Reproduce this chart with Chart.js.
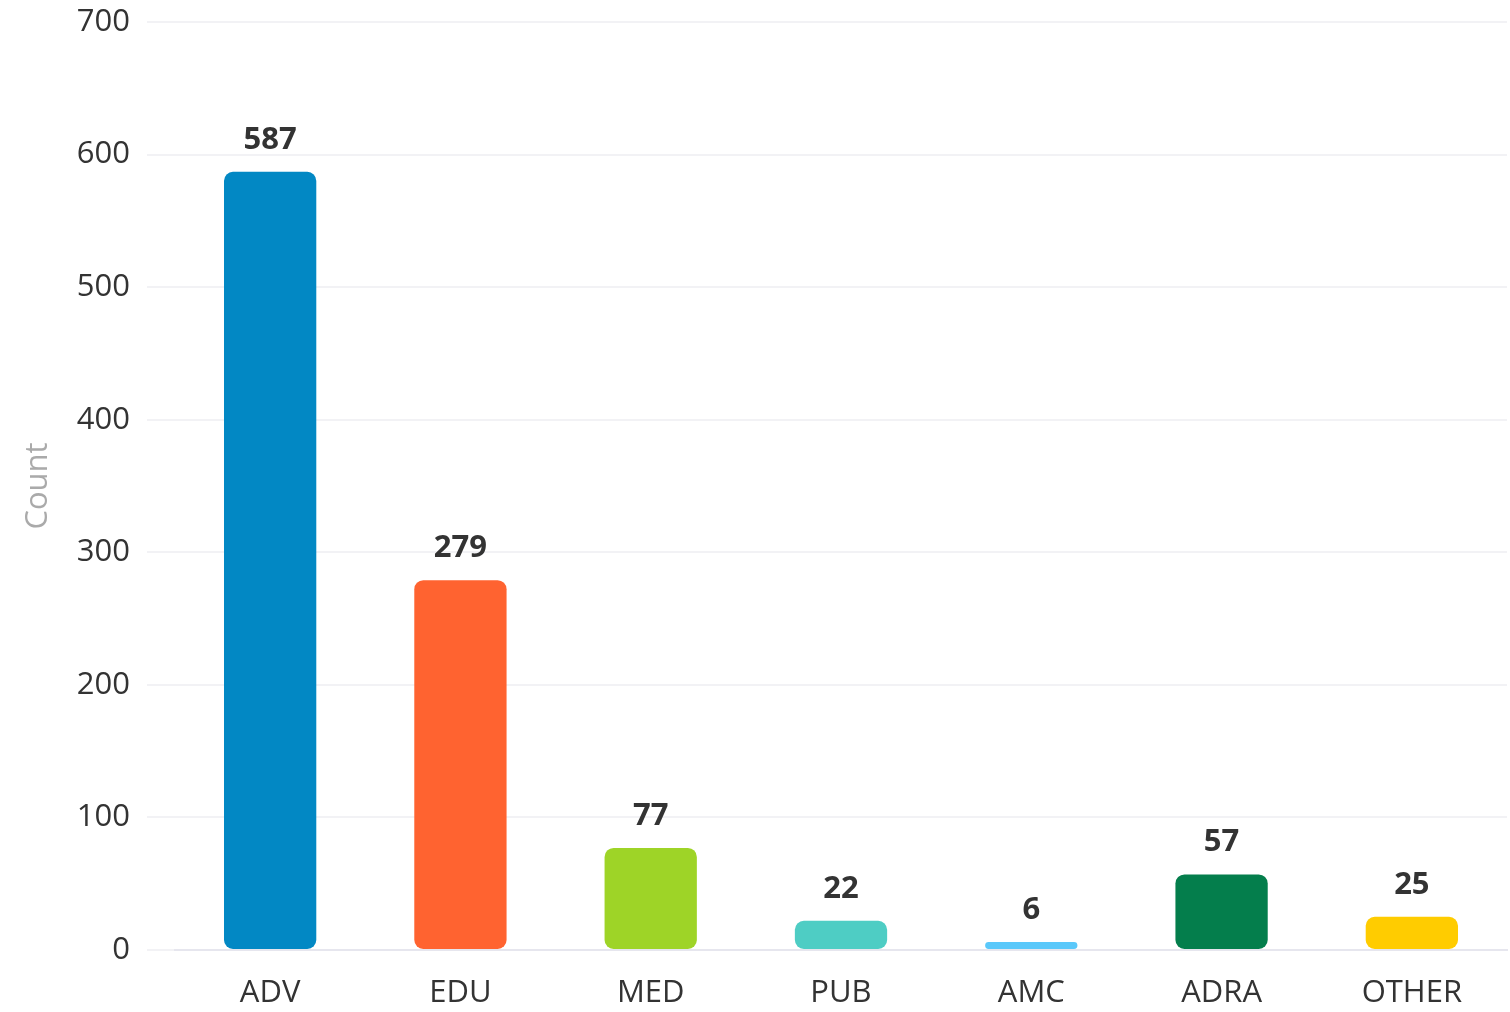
<!DOCTYPE html>
<html>
<head>
<meta charset="utf-8">
<script src="https://cdn.jsdelivr.net/npm/chart.js@4/dist/chart.umd.min.js"></script>
<style>
  html, body { margin: 0; padding: 0; background: #ffffff; }
  #wrap { width: 1510px; height: 1012px; position: relative; }
</style>
</head>
<body>
<div id="wrap"><canvas id="c"></canvas></div>
<script>
const categories = ['ADV', 'EDU', 'MED', 'PUB', 'AMC', 'ADRA', 'OTHER'];
const counts = [587, 279, 77, 22, 6, 57, 25];
const barColors = ['#0288C4', '#FF6330', '#9ED427', '#4ECDC4', '#5AC8FA', '#047E4C', '#FFCC00'];
const yTicks = [0, 100, 200, 300, 400, 500, 600, 700];
const yTitle = 'Count';

const FONT = '"Open Sans", Lato, sans-serif';

const valueLabels = {
  id: 'valueLabels',
  afterDatasetsDraw(chart) {
    const ctx = chart.ctx;
    const meta = chart.getDatasetMeta(0);
    ctx.save();
    ctx.font = 'bold 31px ' + FONT;
    ctx.fillStyle = '#333333';
    ctx.textAlign = 'center';
    ctx.textBaseline = 'middle';
    meta.data.forEach((bar, i) => {
      ctx.fillText(String(chart.data.datasets[0].data[i]), bar.x, bar.y - 32);
    });
    ctx.restore();
  }
};

new Chart(document.getElementById('c'), {
  type: 'bar',
  data: {
    labels: categories,
    datasets: [{
      label: yTitle,
      data: counts,
      backgroundColor: barColors,
      borderRadius: 9,
      borderSkipped: false,
      categoryPercentage: 1,
      barPercentage: 0.485
    }]
  },
  options: {
    responsive: true,
    maintainAspectRatio: false,
    animation: false,
    layout: { padding: { top: 22, right: 3, left: 0, bottom: 0 } },
    plugins: { legend: { display: false }, tooltip: { enabled: false } },
    scales: {
      x: {
        grid: { display: false, drawTicks: false },
        border: { display: true, color: '#e6e6ee', width: 2 },
        ticks: { color: '#333333', padding: 25, font: { family: FONT, size: 31 } },
        afterFit(scale) { scale.height = 62; scale.paddingLeft = 0; scale.paddingRight = 0; }
      },
      y: {
        min: 0,
        max: 700,
        afterBuildTicks(scale) { scale.ticks = yTicks.map(v => ({ value: v })); },
        grid: { color: '#f2f2f5', lineWidth: 2, tickLength: 28, drawTicks: true },
        border: { display: false },
        ticks: { color: '#333333', padding: 17, font: { family: FONT, size: 31 } },
        title: { display: true, text: yTitle, color: '#aaaaaa', font: { family: FONT, size: 31 }, padding: { top: 20, bottom: 0 } },
        afterFit(scale) { scale.width = 175; scale.paddingTop = 0; scale.paddingBottom = 0; }
      }
    }
  },
  plugins: [valueLabels]
});
</script>
</body>
</html>
